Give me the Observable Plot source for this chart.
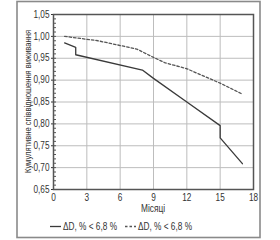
<!DOCTYPE html>
<html><head><meta charset="utf-8">
<script src="https://cdn.jsdelivr.net/npm/d3@7"></script>
<script src="https://cdn.jsdelivr.net/npm/@observablehq/plot@0.6"></script>
<style>body{margin:0;background:#fff}</style>
</head><body><div id="chart"></div>
<script>
// Data
const months1 = [1, 2, 2, 8, 9, 12, 15, 15, 17];
const surv1   = [0.985, 0.975, 0.958, 0.923, 0.904, 0.85, 0.796, 0.768, 0.709];
const months2 = [1, 4, 7.5, 9, 10, 12, 15, 17];
const surv2   = [1.0, 0.99, 0.971, 0.952, 0.94, 0.926, 0.893, 0.868];
const xTicks = [0, 3, 6, 9, 12, 15, 18];
const yTicks = [0.65, 0.70, 0.75, 0.80, 0.85, 0.90, 0.95, 1.00, 1.05];
const seriesLabels = ["ΔD, % < 6,8 %", "ΔD, % < 6,8 %"];
const xLabel = "Місяці";
const yLabel = "Кумулятивне співвідношення виживання";

const FONT = "'Liberation Sans',Arial,sans-serif";
const minor = d3.range(65, 106).map(d => d / 100);
const d1 = months1.map((m, i) => ({m, s: surv1[i]}));
const d2 = months2.map((m, i) => ({m, s: surv2[i]}));
const fmt = d => d.toFixed(2).replace(".", ",");

const plot = Plot.plot({
  width: 280, height: 240,
  marginLeft: 53, marginRight: 27, marginTop: 14, marginBottom: 51,
  style: {fontFamily: FONT, fontSize: "10px", color: "#333", background: "#fff"},
  x: {domain: [0, 18]},
  y: {domain: [0.65, 1.05]},
  marks: [
    Plot.gridX(xTicks, {stroke: "#bdbdbd", strokeOpacity: 1}),
    Plot.gridY(yTicks, {stroke: "#bdbdbd", strokeOpacity: 1}),
    Plot.axisX(xTicks, {tickSize: 0, tickPadding: 4, tickFormat: d => d, label: null}),
    Plot.axisY(yTicks, {tickSize: 2, tickPadding: 2, tickFormat: fmt, label: null}),
    Plot.axisY(minor, {tickSize: 3, dx: 3, tickFormat: () => "", label: null, stroke: "#555"}),
    Plot.frame({stroke: "#555", strokeWidth: 1.5}),
    Plot.line(d1, {x: "m", y: "s", stroke: "#3a3a3a", strokeWidth: 1.3}),
    Plot.line(d2, {x: "m", y: "s", stroke: "#555", strokeWidth: 1.3, strokeDasharray: "2.5,2"})
  ]
});

const svg = d3.select(plot);
const xs = plot.scale("x"), ys = plot.scale("y");
const cx = (xs.range[0] + xs.range[1]) / 2;
const cy = (ys.range[0] + ys.range[1]) / 2;

svg.append("rect").attr("x", 17).attr("y", 1.5).attr("width", 243).attr("height", 236)
  .attr("fill", "none").attr("stroke", "#8a8a8a").attr("stroke-width", 1.6);

svg.append("text").attr("x", cx).attr("y", 212).attr("text-anchor", "middle")
  .attr("font-family", FONT).attr("font-size", 10).attr("fill", "#333")
  .attr("textLength", 24).attr("lengthAdjust", "spacingAndGlyphs").text(xLabel);

svg.append("text").attr("transform", `translate(31,${cy}) rotate(-90)`).attr("text-anchor", "middle")
  .attr("font-family", FONT).attr("font-size", 9.5).attr("fill", "#333")
  .attr("textLength", 143).attr("lengthAdjust", "spacingAndGlyphs").text(yLabel);

const lg = [
  {x: 50, dash: null, color: "#3a3a3a"},
  {x: 125, dash: "2.5,2", color: "#555"}
];
lg.forEach((l, i) => {
  svg.append("line").attr("x1", l.x).attr("x2", l.x + 11).attr("y1", 226.5).attr("y2", 226.5)
    .attr("stroke", l.color).attr("stroke-width", 1.3).attr("stroke-dasharray", l.dash);
  svg.append("text").attr("x", l.x + 13).attr("y", 230).attr("text-anchor", "start")
    .attr("font-family", FONT).attr("font-size", 10).attr("fill", "#333")
    .attr("textLength", 54).attr("lengthAdjust", "spacingAndGlyphs").text(seriesLabels[i]);
});

document.getElementById("chart").appendChild(plot);

// narrow the axis tick labels like the reference's condensed font
svg.selectAll("g[aria-label$='tick label'] text").each(function () {
  const w = this.getComputedTextLength();
  if (w > 0) {
    this.setAttribute("textLength", (w * 0.82).toFixed(1));
    this.setAttribute("lengthAdjust", "spacingAndGlyphs");
  }
});
</script>
</body></html>
